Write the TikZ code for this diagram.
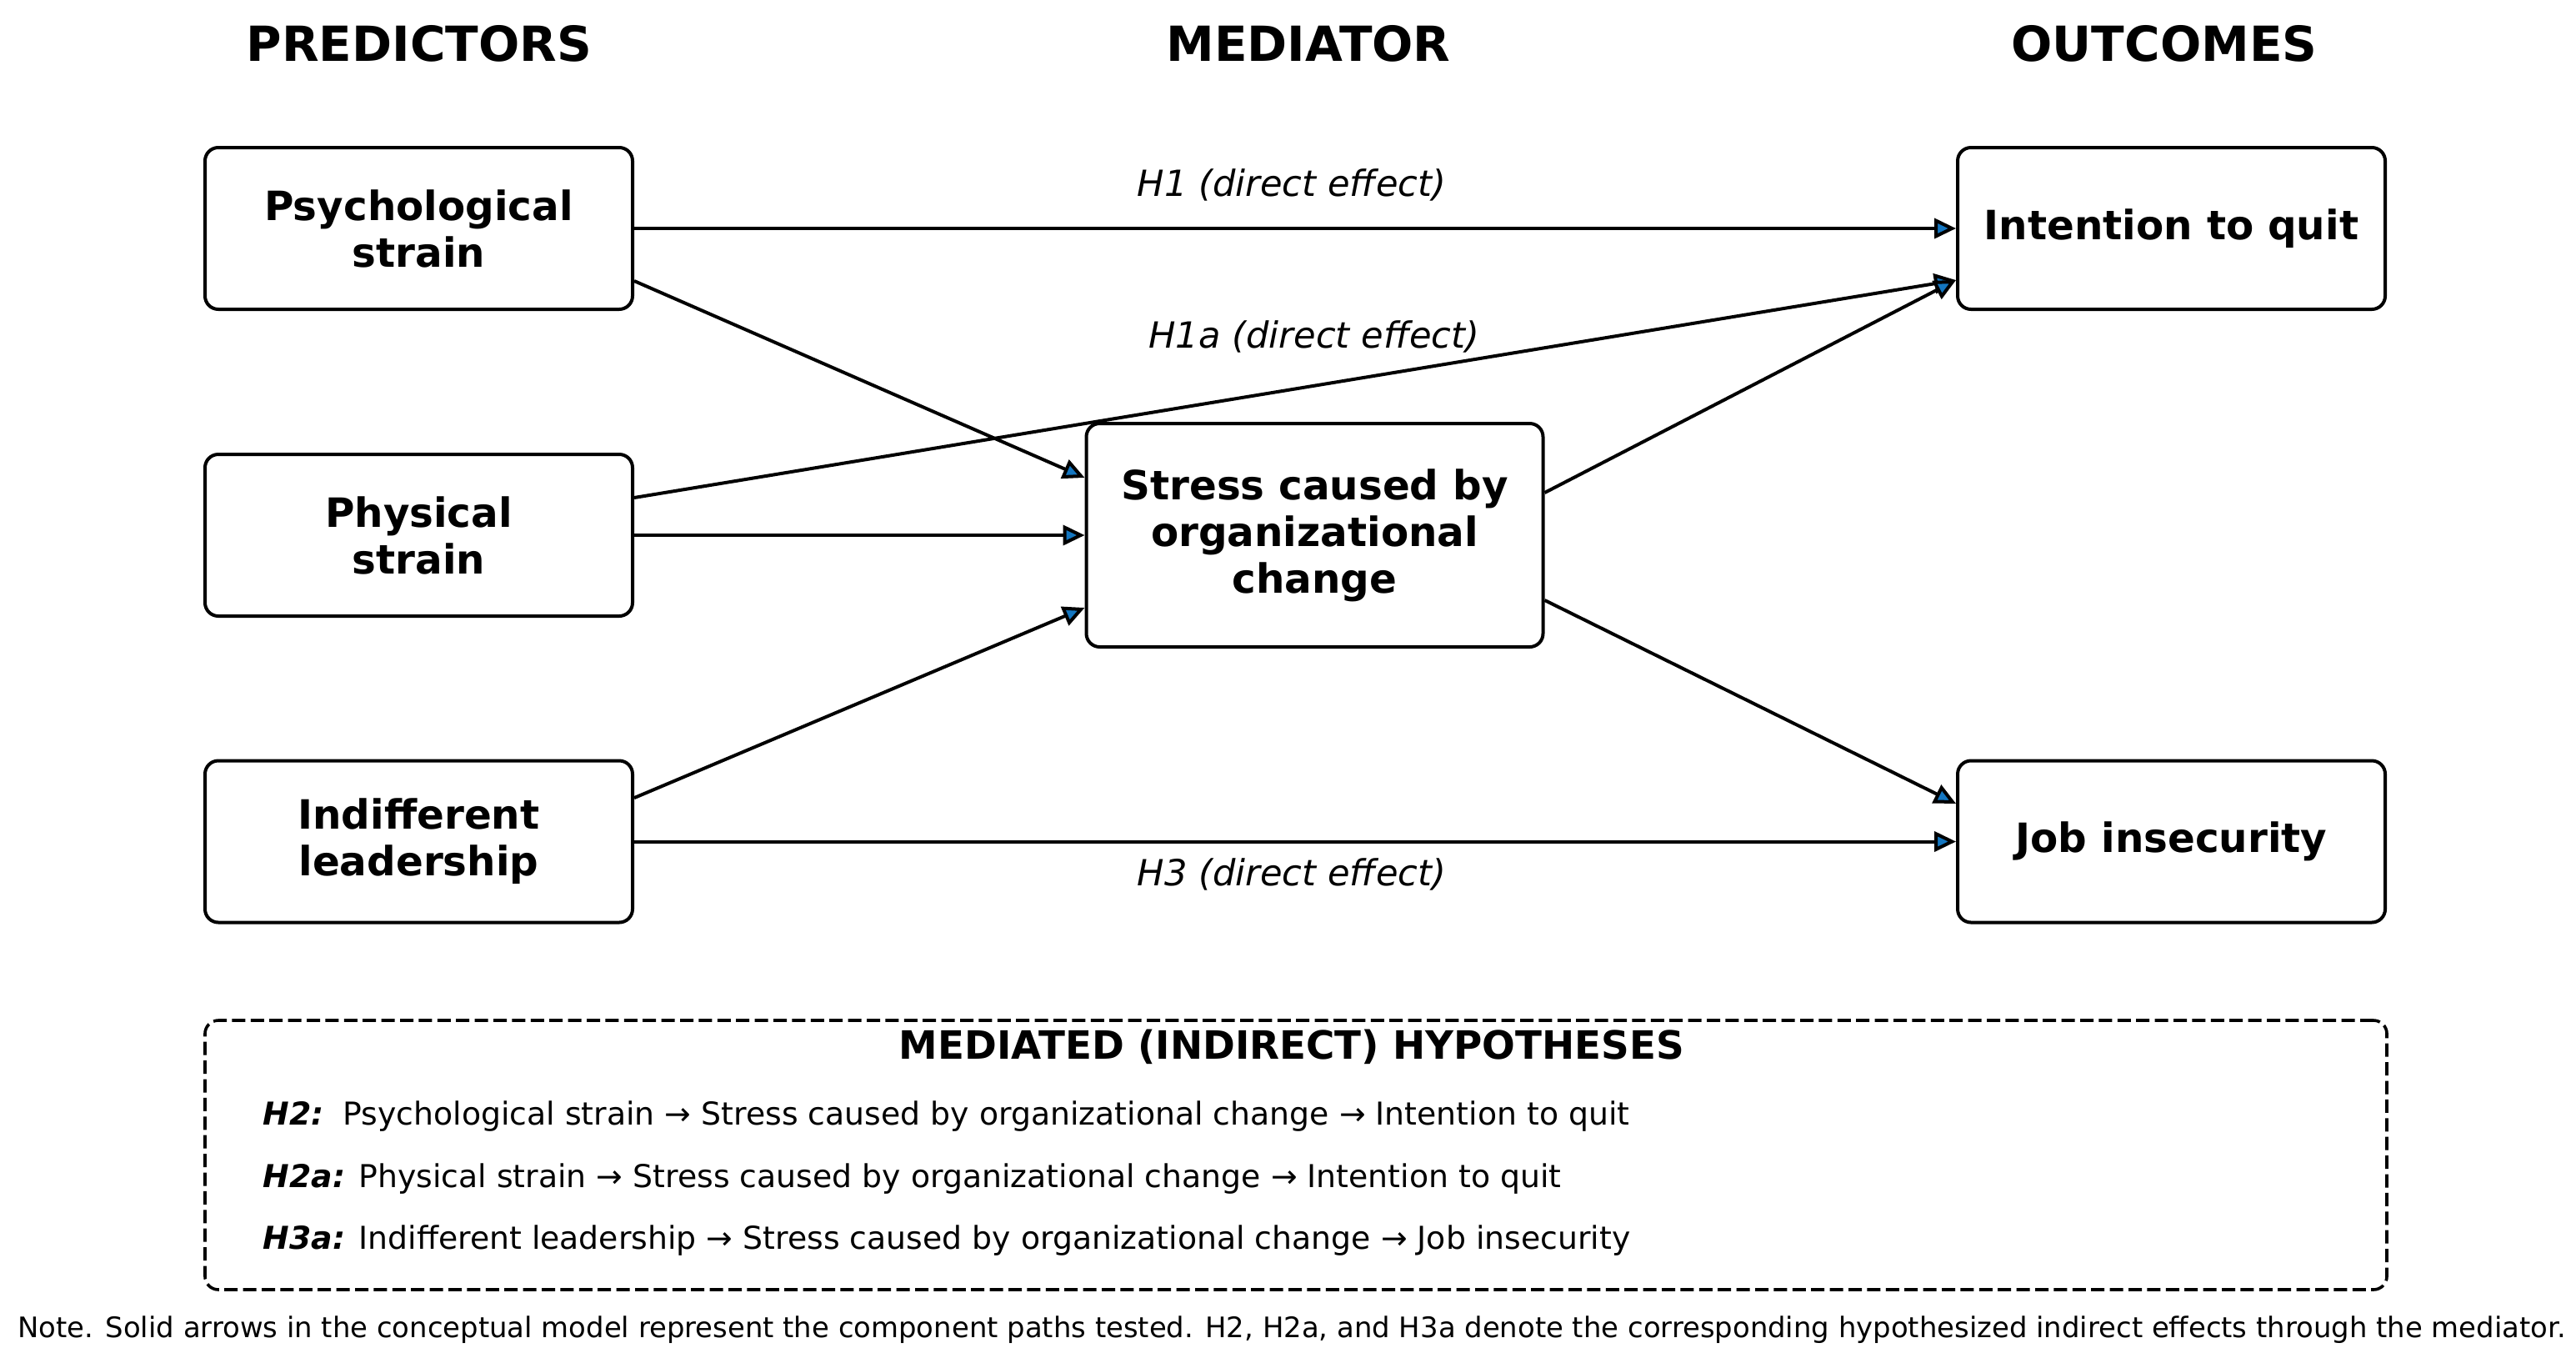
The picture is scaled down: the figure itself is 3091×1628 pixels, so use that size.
\documentclass[tikz,border=0pt]{standalone}
\usepackage{fontspec}
\setmainfont{DejaVu Sans}
\usetikzlibrary{arrows.meta}
\definecolor{arrowblue}{RGB}{20,118,192}
\tikzset{
  box/.style={draw, line width=1pt, rounded corners=4pt, align=center,
    inner sep=0pt, font=\bfseries\fontsize{12.1}{14}\selectfont},
  predbox/.style={box, minimum width=128.25pt, minimum height=48.5pt},
  medbox/.style={box, minimum width=137pt, minimum height=67pt},
  conn/.style={line width=1pt, -{Triangle[length=6.5pt,width=6pt,fill=arrowblue]}},
  coltitle/.style={anchor=base, font=\bfseries\fontsize{14.5}{16}\selectfont},
  pathlabel/.style={anchor=base, font=\itshape\fontsize{10.8}{12}\selectfont},
  hypline/.style={anchor=base west, font=\fontsize{9.45}{11}\selectfont, inner sep=0pt},
}
\begin{document}
\begin{tikzpicture}[x=0.25pt, y=-0.25pt]
\useasboundingbox (0,0) rectangle (3091,1628);
% column titles
\node[coltitle] (tpred) at (503,73) {PREDICTORS};
\node[coltitle] (tmed) at (1570,73) {MEDIATOR};
\node[coltitle] (tout) at (2597,73) {OUTCOMES};
% boxes
\node[predbox] (psych) at (502.5,274) {Psychological\\strain};
\node[predbox] (phys) at (502.5,642) {Physical\\strain};
\node[predbox] (indiff) at (502.5,1009.5) {Indifferent\\leadership};
\node[medbox] (med) at (1577.5,642) {Stress caused by\\organizational\\change};
\node[predbox] (intent) at (2605.5,274) {Intention to quit};
\node[predbox] (job) at (2605.5,1009.5) {Job insecurity};
% connectors
\draw[conn] (psych.east) -- (intent.west);
\draw[conn] ([yshift=-15.75pt]psych.east) -- ([yshift=17.25pt]med.west);
\draw[conn] ([yshift=11.25pt]phys.east) -- ([yshift=-15.5pt]intent.west);
\draw[conn] (phys.east) -- (med.west);
\draw[conn] ([yshift=13.1pt]indiff.east) -- ([yshift=-21.75pt]med.west);
\draw[conn] (indiff.east) -- (job.west);
\draw[conn] ([yshift=12.75pt]med.east) -- ([yshift=-15.5pt]intent.west);
\draw[conn] ([yshift=-19.5pt]med.east) -- ([yshift=11.4pt]job.west);
% path labels
\node[pathlabel] (lh1) at (1550,235) {H1 (direct effect)};
\node[pathlabel] (lh1a) at (1577,417) {H1a (direct effect)};
\node[pathlabel] (lh3) at (1550,1062) {H3 (direct effect)};
% mediated hypotheses box
\node[draw, line width=0.9pt, dash pattern=on 4pt off 1.6pt, rounded corners=4pt,
  minimum width=654.5pt, minimum height=80.75pt, inner sep=0pt] (hypbox) at (1555,1385.5) {};
\node[anchor=base, font=\bfseries\fontsize{11.7}{13}\selectfont] (hyptitle) at (1550,1270) {MEDIATED (INDIRECT) HYPOTHESES};
\node[hypline] (h2) at (315,1349) {\textbf{\textit{H2:}}\hspace{0.6em}Psychological strain → Stress caused by organizational change → Intention to quit};
\node[hypline] (h2a) at (315,1424) {\textbf{\textit{H2a:}} Physical strain → Stress caused by organizational change → Intention to quit};
\node[hypline] (h3a) at (315,1498) {\textbf{\textit{H3a:}} Indifferent leadership → Stress caused by organizational change → Job insecurity};
% note
\node[anchor=base, font=\fontsize{8.47}{10}\selectfont, inner sep=0pt] (note) at (1550,1604) {Note. Solid arrows in the conceptual model represent the component paths tested. H2, H2a, and H3a denote the corresponding hypothesized indirect effects through the mediator.};
\end{tikzpicture}
\end{document}
